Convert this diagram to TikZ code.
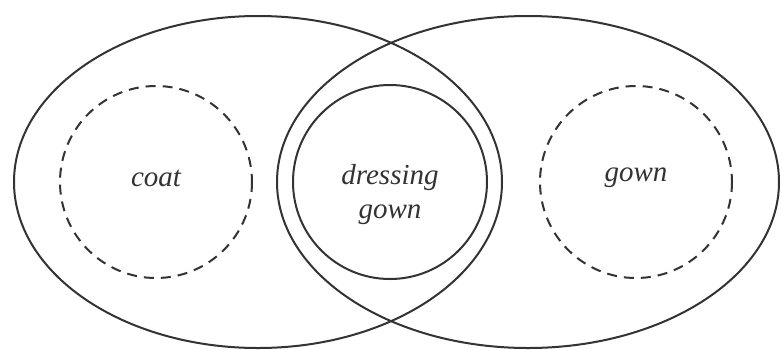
\documentclass[tikz,border=0pt]{standalone}
\usepackage{fontspec}
\setmainfont{Liberation Serif}
\definecolor{ink}{HTML}{333333}
\begin{document}
\begin{tikzpicture}[x=1pt,y=-1pt,line width=2pt,
  lbl/.style={font=\fontsize{29}{34}\selectfont\itshape,text=ink,align=center}]
 \useasboundingbox (0,0) rectangle (782,349);
 % the two outer sets
 \draw[ink] (258,182) ellipse (244 and 166);
 \draw[ink] (528,182) ellipse (251 and 166);
 % dashed subsets
 \draw[ink,dash pattern=on 10pt off 7pt] (156,182) circle (96);
 \draw[ink,dash pattern=on 10pt off 7pt] (636,182) circle (96);
 % the overlap
 \draw[ink] (390,182) circle (97);
 \node[lbl] (coat) at (156,178) {coat};
 \node[lbl] (dgown) at (390,195) {dressing\\gown};
 \node[lbl] (gown) at (636,178) {gown};
\end{tikzpicture}
\end{document}
